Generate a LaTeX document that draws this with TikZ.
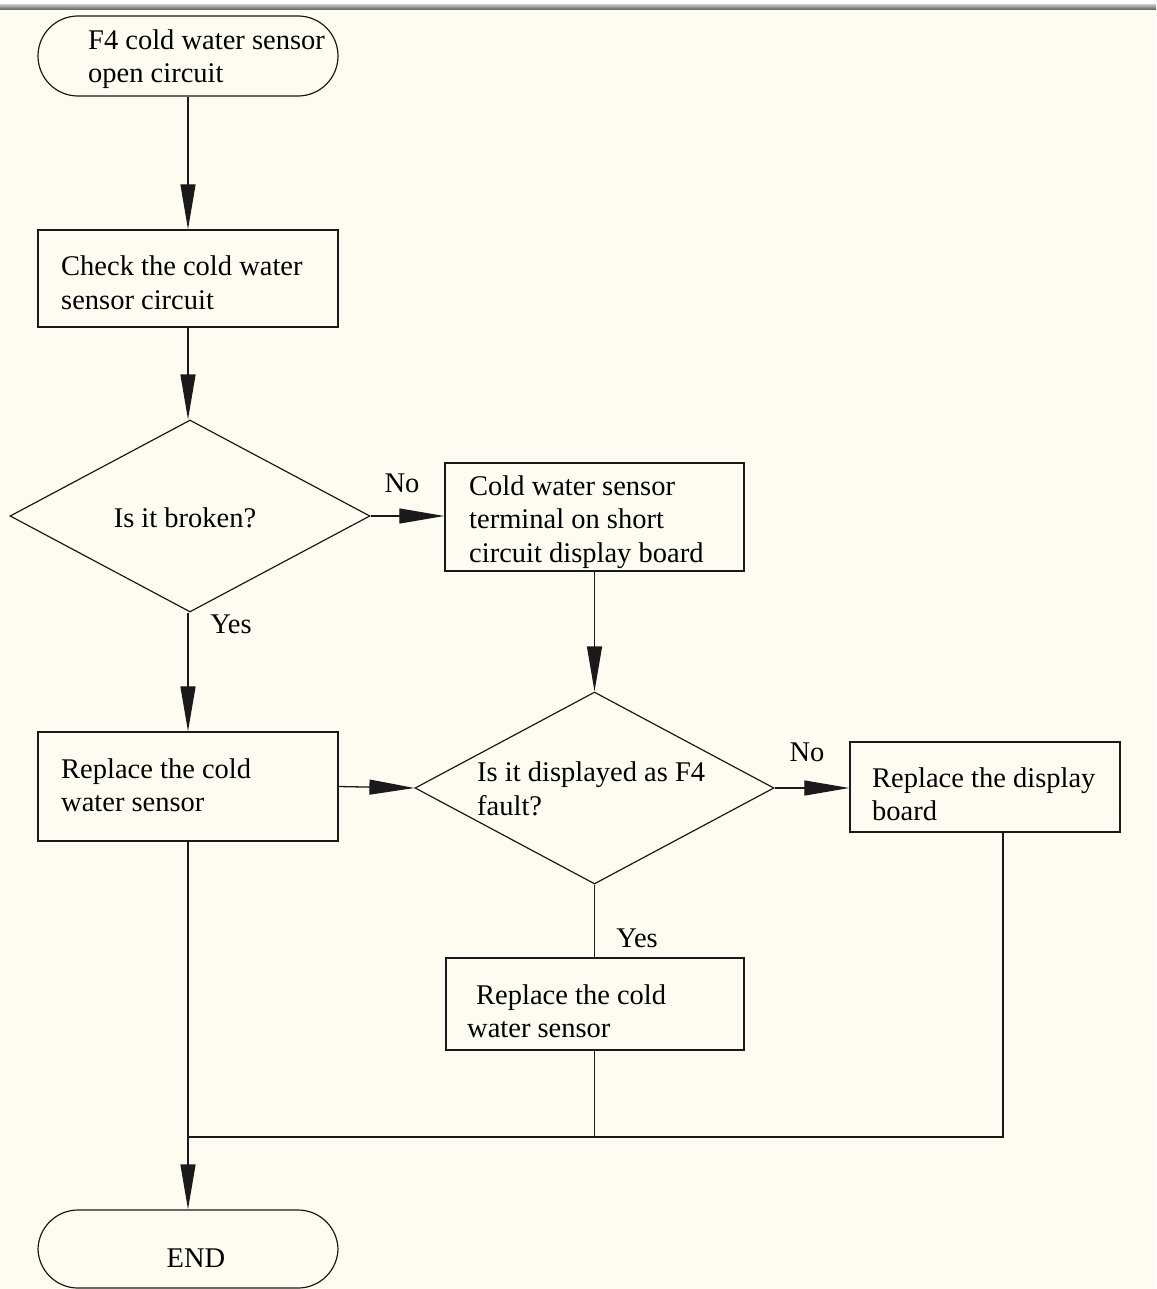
\documentclass[tikz,border=0pt]{standalone}
\usepackage{fontspec}
\setmainfont{Liberation Serif}
\usetikzlibrary{arrows.meta,shapes.geometric}
\definecolor{bgcream}{HTML}{FEFCF0}
\definecolor{inkline}{HTML}{1A1A1A}
\begin{document}
\begin{tikzpicture}[x=1pt,y=-1pt,
  every node/.style={font=\fontsize{28.5}{33.5}\selectfont, text=black},
  box/.style={draw=inkline, line width=1.4pt, rectangle, inner xsep=23pt, inner ysep=0pt, align=left},
  term/.style={draw=inkline, line width=1.2pt, rectangle, rounded corners=40pt, minimum width=300pt, minimum height=80pt, inner sep=0pt},
  decision/.style={draw=inkline, line width=1.2pt, diamond, inner sep=0pt, align=center},
  flow/.style={draw=inkline, line width=1.3pt},
  flowarrow/.style={flow, -{Triangle[length=45pt,width=15pt]}},
  lbl/.style={inner sep=0pt}
]
\useasboundingbox (0,0) rectangle (1156,1289);
\fill[bgcream] (0,0) rectangle (1156,1289);
\fill[white] (0,0) rectangle (1156,5);
\shade[top color=gray!55, bottom color=gray!70!black] (0,5) rectangle (1156,10);

% start terminal
\node[term] (start) at (188,56) {};
\node[lbl, anchor=west, align=left] (starttxt) at (88,59) {F4 cold water sensor\\open circuit};

% boxes
\node[box, text width=254pt, minimum height=97pt] (check) at (188,278.5) {};
\node[lbl, anchor=west, align=left] (checktxt) at (61,283) {Check the cold water\\sensor circuit};
\node[decision, minimum width=360pt, minimum height=192pt] (d1) at (190,516) {};
\node[lbl] (d1txt) at (185,518) {Is it broken?};
\node[box, text width=251pt, minimum height=108pt, inner xsep=24pt] (short) at (594.5,517) {};
\node[lbl, anchor=west, align=left] (shorttxt) at (469,522) {Cold water sensor\\terminal on short\\circuit display board};
\node[box, text width=254pt, minimum height=109pt] (rep1) at (188,786.5) {};
\node[lbl, anchor=west, align=left] (rep1txt) at (61,785) {Replace the cold\\water sensor};
\node[decision, minimum width=359pt, minimum height=192pt] (d2) at (594.5,788) {};
\node[lbl, anchor=west, align=left] (d2txt) at (477,789) {Is it displayed as F4\\fault?};
\node[box, text width=226pt, minimum height=90pt, inner xsep=22pt] (disp) at (985,787) {};
\node[lbl, anchor=west, align=left] (disptxt) at (872,794) {Replace the display\\board};
\node[box, text width=256pt, minimum height=92pt, inner xsep=21pt] (rep2) at (595,1004) {};
\node[lbl, anchor=west, align=left] (rep2txt) at (467,1011) {\hspace{9pt}Replace the cold\\water sensor};
\node[term, minimum height=78pt] (endt) at (188,1249) {};
\node[lbl] (endtxt) at (196,1258) {END};

% labels
\node[lbl] (no1) at (402,483) {No};
\node[lbl] (yes1) at (231,624) {Yes};
\node[lbl] (no2) at (807,752) {No};
\node[lbl] (yes2) at (637,938) {Yes};

% connectors
\draw[flowarrow] (start.south) -- (check.north);
\draw[flowarrow] (check.south) -- (d1.north -| check.south);
\draw[flowarrow] (d1.east) -- (short.west |- d1.east);
\draw[flowarrow] (d1.south -| rep1.north) -- (rep1.north);
\draw[flowarrow] (rep1.east) -- (d2.west);
\draw[flowarrow] (short.south) -- (d2.north);
\draw[flowarrow] (d2.east) -- (disp.west |- d2.east);
\draw[flow] (d2.south) -- (rep2.north -| d2.south);
\coordinate (merge) at (188,1137);
\draw[flow] (rep2.south -| d2.south) -- (merge -| d2.south);
\draw[flow] (disp.south -| 1003,0) |- (merge);
\draw[flowarrow] (rep1.south) -- (endt.north);
\end{tikzpicture}
\end{document}
